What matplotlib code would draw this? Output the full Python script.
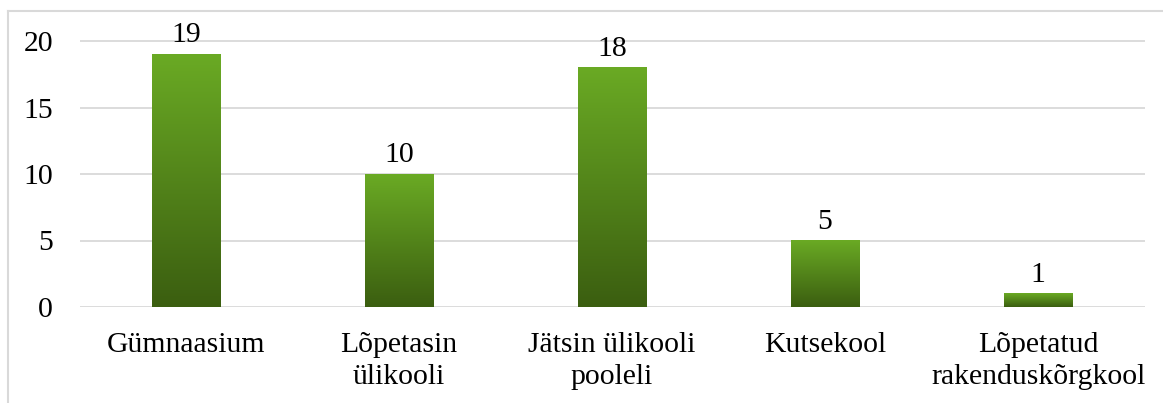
import numpy as np
import matplotlib.pyplot as plt
from matplotlib.colors import LinearSegmentedColormap

categories = ['Gümnaasium', 'Lõpetasin\nülikooli', 'Jätsin ülikooli\npooleli',
              'Kutsekool', 'Lõpetatud\nrakenduskõrgkool']
values = [19, 10, 18, 5, 1]
yticks = [0, 5, 10, 15, 20]

plt.rcParams['font.family'] = ['Liberation Serif', 'DejaVu Serif']
FS = 21.4

fig = plt.figure(figsize=(11.63, 4.03), dpi=100)
ax = fig.add_axes([79.5 / 1163, 1 - 307 / 403, (1144.5 - 79.5) / 1163, (307 - 41) / 403 * 22 / 20])

# outer frame: only left and top edges show in the reference
fig.lines.append(plt.Line2D([8 / 1163, 1], [1 - 11 / 403] * 2, transform=fig.transFigure,
                            color='#d9d9d9', lw=1.5))
fig.lines.append(plt.Line2D([8 / 1163] * 2, [0, 1 - 11 / 403], transform=fig.transFigure,
                            color='#d9d9d9', lw=1.5))

cmap = LinearSegmentedColormap.from_list('grn', ['#3b5e10', '#6aaa24'])
grad = np.linspace(0, 1, 256).reshape(-1, 1)

x = np.arange(len(categories))
bars = ax.bar(x, values, width=0.32, color='none', zorder=2)
for b, v in zip(bars, values):
    x0 = b.get_x()
    ax.imshow(grad, cmap=cmap, origin='lower', aspect='auto',
              extent=(x0, x0 + b.get_width(), 0, v), zorder=2)
    ax.text(b.get_x() + b.get_width() / 2, v + 0.45, str(v), ha='center', va='bottom',
            fontsize=FS, color='black')

ax.set_xlim(-0.5, len(categories) - 0.5)
ax.set_ylim(0, 22)
ax.set_yticks(yticks)
ax.set_xticks(x)
ax.set_xticklabels(categories, fontsize=FS, linespacing=1.3)
ax.tick_params(axis='y', labelsize=FS, length=0, pad=19)
ax.tick_params(axis='x', length=0, pad=18)
ax.grid(axis='y', color='#d9d9d9', lw=1.3, zorder=0)
ax.set_axisbelow(True)
for s in ax.spines.values():
    s.set_visible(False)

plt.savefig('out.png', dpi=100)
